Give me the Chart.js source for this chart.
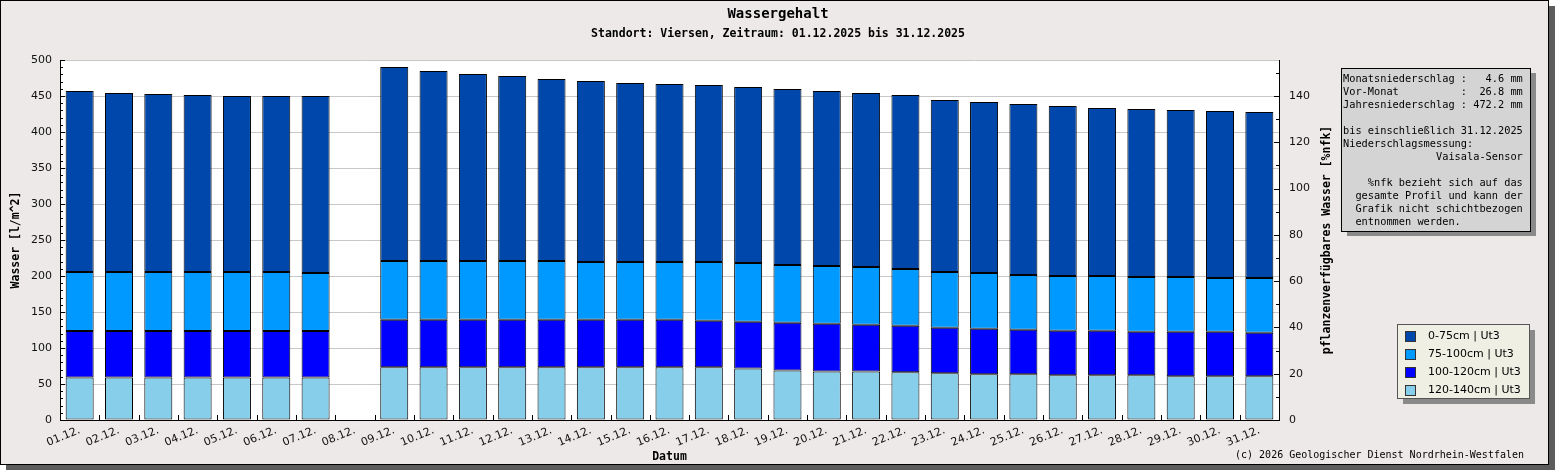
<!DOCTYPE html>
<html>
<head>
<meta charset="utf-8">
<script src="https://cdn.jsdelivr.net/npm/chart.js@4/dist/chart.umd.min.js"></script>
<style>
  body { margin: 0; background: #fff; }
  #frame {
    position: absolute; left: 0; top: 0;
    width: 1547px; height: 463px;
    border: 1px solid #000;
    background: #ece9e8;
    box-shadow: 6px 6px 0 #5c5c5c;
  }
</style>
</head>
<body>
<div id="frame"><canvas id="myChart" width="1547" height="463"></canvas></div>
<script>
const days = ["01.12.", "02.12.", "03.12.", "04.12.", "05.12.", "06.12.", "07.12.", "08.12.",
  "09.12.", "10.12.", "11.12.", "12.12.", "13.12.", "14.12.", "15.12.", "16.12.", "17.12.",
  "18.12.", "19.12.", "20.12.", "21.12.", "22.12.", "23.12.", "24.12.", "25.12.", "26.12.",
  "27.12.", "28.12.", "29.12.", "30.12.", "31.12."];

// Wasser je Schicht in l/m^2 (08.12. fehlt)
const layer120_140 = [59.2, 59.2, 59.2, 59.2, 59.2, 59.2, 59.2, null,
  73.1, 73.1, 73.1, 73.1, 73.1, 73.1, 73.1, 73.1, 73.1, 71.7, 68.9, 67.5, 67.5, 66.2,
  64.8, 63.4, 63.4, 62.0, 62.0, 62.0, 60.6, 60.6, 60.6];
const layer100_120 = [64.4, 64.4, 64.4, 64.4, 64.4, 64.4, 64.4, null,
  66.2, 66.2, 66.2, 66.2, 66.2, 66.2, 66.2, 66.2, 64.8, 64.8, 66.2, 66.3, 64.9, 64.8,
  63.4, 63.4, 62.0, 62.0, 62.0, 60.6, 62.0, 62.0, 60.7];
const layer75_100 = [81.9, 81.9, 81.9, 81.9, 81.9, 81.9, 80.6, null,
  81.5, 81.5, 81.5, 81.5, 81.5, 80.1, 80.1, 80.1, 81.5, 81.5, 80.1, 80.0, 80.1, 78.7,
  77.3, 77.3, 75.9, 76.0, 76.0, 76.0, 76.0, 74.6, 75.9];
const layer0_75 = [251.5, 248.5, 247.3, 245.9, 244.5, 244.5, 245.8, null,
  269.5, 263.9, 259.8, 257.0, 252.8, 251.4, 248.6, 247.3, 245.9, 244.5, 244.5, 243.2,
  241.7, 241.7, 238.9, 237.6, 237.6, 236.0, 233.3, 233.4, 232.0, 232.0, 230.6];

const infoLines = [
  "Monatsniederschlag :   4.6 mm",
  "Vor-Monat          :  26.8 mm",
  "Jahresniederschlag : 472.2 mm",
  "",
  "bis einschließlich 31.12.2025",
  "Niederschlagsmessung:",
  "               Vaisala-Sensor",
  "",
  "    %nfk bezieht sich auf das",
  "  gesamte Profil und kann der",
  "  Grafik nicht schichtbezogen",
  "  entnommen werden."
];

const mono = "'DejaVu Sans Mono', monospace";
const sans = "'DejaVu Sans', sans-serif";

// kleine Striche nach innen, wie im Original
const innerTicks = {
  id: "innerTicks",
  beforeDraw(chart) {
    const a = chart.chartArea;
    const ctx = chart.ctx;
    ctx.save();
    ctx.fillStyle = "#fff";
    ctx.fillRect(a.left, a.top, a.right - a.left, a.bottom - a.top);
    ctx.restore();
  },
  afterDatasetsDraw(chart) {
    const ctx = chart.ctx;
    const y = chart.scales.y;
    const y2 = chart.scales.y2;
    const x = chart.scales.x;
    ctx.save();
    ctx.strokeStyle = "#000";
    ctx.lineWidth = 1;
    ctx.beginPath();
    for (let v = 0; v <= 500; v += 10) {
      const py = Math.round(y.getPixelForValue(v)) + 0.5;
      const len = v % 50 === 0 ? 5 : 3;
      ctx.moveTo(y.right, py);
      ctx.lineTo(y.right + len, py);
    }
    for (let v = 0; v <= y2.max; v += 10) {
      const py = Math.round(y2.getPixelForValue(v)) + 0.5;
      const len = v % 20 === 0 ? 5 : 3;
      ctx.moveTo(y2.left, py);
      ctx.lineTo(y2.left - len, py);
    }
    for (let i = 0; i <= days.length; i++) {
      const px = Math.round(x.getPixelForValue(i - 0.5)) + 0.5;
      ctx.moveTo(px, x.top);
      ctx.lineTo(px, x.top - 5);
    }
    ctx.stroke();
    ctx.restore();
  },
  afterDraw(chart) {
    const ctx = chart.ctx;
    ctx.save();
    ctx.fillStyle = "#000";
    ctx.textAlign = "center";
    ctx.textBaseline = "middle";
    ctx.font = "bold 14px " + mono;
    ctx.fillText("Wassergehalt", 777, 13);
    ctx.font = "bold 11.5px " + mono;
    ctx.fillText("Standort: Viersen, Zeitraum: 01.12.2025 bis 31.12.2025", 777, 33);

    // rechte Achsenbeschriftung
    ctx.save();
    ctx.translate(1326, 239);
    ctx.rotate(-Math.PI / 2);
    ctx.fillText("pflanzenverfügbares Wasser [%nfk]", 0, 0);
    ctx.restore();

    // Info-Kasten
    ctx.fillStyle = "#8a8a8a";
    ctx.fillRect(1346, 72, 189, 163);
    ctx.fillStyle = "#d4d4d4";
    ctx.fillRect(1340.5, 67.5, 189, 163);
    ctx.strokeStyle = "#000";
    ctx.strokeRect(1340.5, 67.5, 189, 163);
    ctx.fillStyle = "#000";
    ctx.textAlign = "left";
    ctx.font = "10.3px " + mono;
    infoLines.forEach((line, i) => {
      ctx.fillText(line, 1342, 78.5 + i * 13);
    });

    // Legende
    ctx.fillStyle = "#8a8a8a";
    ctx.fillRect(1402, 329, 132, 74);
    ctx.fillStyle = "#efefe4";
    ctx.fillRect(1396.5, 323.5, 132, 74);
    ctx.strokeStyle = "#555";
    ctx.strokeRect(1396.5, 323.5, 132, 74);
    ctx.font = "11px " + sans;
    const sets = chart.data.datasets.slice().reverse();
    sets.forEach((ds, i) => {
      const cy = 335 + i * 18;
      ctx.fillStyle = ds.backgroundColor;
      ctx.fillRect(1404.5, cy - 4.5, 10, 10);
      ctx.strokeStyle = "#333";
      ctx.strokeRect(1404.5, cy - 4.5, 10, 10);
      ctx.fillStyle = "#000";
      ctx.fillText(ds.label, 1427, cy + 0.5);
    });

    ctx.textAlign = "right";
    ctx.font = "10px " + mono;
    ctx.fillText("(c) 2026 Geologischer Dienst Nordrhein-Westfalen", 1523, 454);
    ctx.restore();
  }
};

const ctx = document.getElementById("myChart").getContext("2d");

const dataChart = {
  labels: days,
  datasets: [
    { label: "120-140cm | Ut3", data: layer120_140, backgroundColor: "#87ceeb" },
    { label: "100-120cm | Ut3", data: layer100_120, backgroundColor: "#0000ff" },
    { label: "75-100cm | Ut3", data: layer75_100, backgroundColor: "#0099ff" },
    { label: "0-75cm | Ut3", data: layer0_75, backgroundColor: "#0047ab" }
  ]
};

const myChart = new Chart(ctx, {
  type: "bar",
  data: dataChart,
  plugins: [innerTicks],
  options: {
    responsive: false,
    animation: false,
    devicePixelRatio: 1,
    layout: { padding: { left: 0, right: 209, top: 59, bottom: 0 } },
    datasets: {
      bar: {
        borderColor: "#000",
        borderWidth: 1,
        borderSkipped: false,
        categoryPercentage: 0.712,
        barPercentage: 1
      }
    },
    plugins: {
      legend: { display: false },
      title: { display: false },
      tooltip: { enabled: false }
    },
    scales: {
      x: {
        stacked: true,
        grid: { drawOnChartArea: false, drawTicks: false },
        border: { color: "#000" },
        ticks: {
          autoSkip: false,
          minRotation: 22,
          maxRotation: 22,
          padding: 4,
          color: "#111",
          font: { family: sans, size: 11 }
        },
        title: {
          display: true,
          text: "Datum",
          color: "#000",
          padding: 0,
          font: { family: mono, size: 11.5, weight: "bold" }
        },
        afterFit: (s) => { s.height = 44; }
      },
      y: {
        stacked: true,
        min: 0,
        max: 500,
        grid: { color: "#c8c8c8", drawTicks: false },
        border: { color: "#000" },
        ticks: {
          stepSize: 50,
          padding: 8,
          color: "#111",
          font: { family: sans, size: 11 }
        },
        title: {
          display: true,
          text: "Wasser [l/m^2]",
          color: "#000",
          padding: { top: 8, bottom: 0 },
          font: { family: mono, size: 11.5, weight: "bold" }
        },
        afterFit: (s) => { s.width = 59; }
      },
      y2: {
        position: "right",
        min: 0,
        max: 500 * 140 / 450,
        grid: { drawOnChartArea: false, drawTicks: false },
        border: { color: "#000" },
        ticks: {
          stepSize: 20,
          includeBounds: false,
          padding: 10,
          color: "#111",
          font: { family: sans, size: 11 }
        },
        afterFit: (s) => { s.width = 60; }
      }
    }
  }
});
</script>
</body>
</html>
